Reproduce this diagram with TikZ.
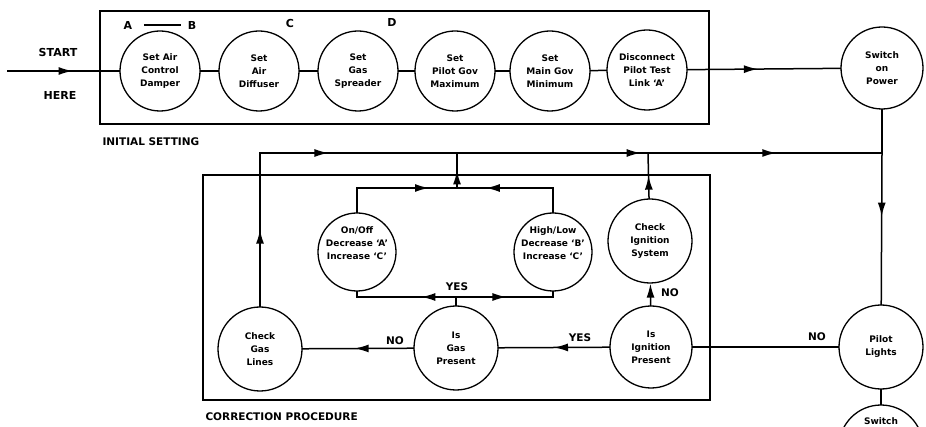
\documentclass[tikz,border=0pt]{standalone}
\usepackage{fontspec}
\setmainfont{DejaVu Sans}
\usetikzlibrary{arrows.meta,decorations.markings}
\newcommand\cfont{\fontsize{9}{13}\selectfont\bfseries}
\newcommand\lfont{\fontsize{10.5}{12}\selectfont\bfseries}
\tikzset{
  Ar/.tip={Latex[length=14pt,width=8pt]},
  bub/.style={circle,draw,line width=1.3pt,minimum size=80pt,inner sep=0pt,align=center,font=\cfont},
  btxt/.style={align=center,font=\cfont,inner sep=0pt},
  ln/.style={line width=1.5pt,line cap=rect},
  lbl/.style={font=\lfont},
  bigl/.style={font=\fontsize{11}{12}\selectfont\bfseries},
  marr/.style={postaction={decorate},decoration={markings,mark=at position #1 with {\arrow{Ar}}}}
}
\begin{document}
\begin{tikzpicture}[x=1pt,y=-1pt]
\useasboundingbox (0,0) rectangle (926,427);
% ---------- initial setting ----------
\draw[ln] (100,11) rectangle (709,124);
\node[bub] (c1) at (160,71) {Set Air\\Control\\Damper};
\node[bub] (c2) at (259,71) {Set\\Air\\Diffuser};
\node[bub] (c3) at (358,71) {Set\\Gas\\Spreader};
\node[bub] (c4) at (455,71) {Set\\Pilot Gov\\Maximum};
\node[bub] (c5) at (550,71) {Set\\Main Gov\\Minimum};
\node[bub] (c6) at (647,70) {Disconnect\\Pilot Test\\Link ‘A’};
\draw[ln] (c1) -- (c2);
\draw[ln] (c2) -- (c3);
\draw[ln] (c3) -- (c4);
\draw[ln] (c4) -- (c5);
\draw[ln] (c5) -- (c6);
\coordinate (st) at (8,71);
\draw[ln,marr=0.58] (st) -- (c1);
\node[bigl] (start) at (58,53) {START};
\node[bigl] (here) at (60,95) {HERE};
\node[bigl] (la) at (128,25) {A};
\node[bigl] (lb) at (192,25) {B};
\draw[line width=1.2pt,shorten <=8pt,shorten >=3pt] (la) -- (lb);
\node[bigl] (lc) at (290,24) {C};
\node[bigl] (ld) at (392,22) {D};
\node[lbl,anchor=west] (init) at (99,142) {INITIAL SETTING};
% ---------- right column ----------
\node[bub,minimum size=82pt] (sw) at (882,68) {Switch\\on\\Power};
\draw[ln,marr=0.46] (c6) -- (sw);
\coordinate (j1) at (260,153);
\coordinate (j2) at (457,153);
\coordinate (j3) at (648,153);
\coordinate (j4) at (882,153);
\node[bub,minimum size=84pt] (pl) at (881,347) {Pilot\\Lights};
\node[bub,minimum size=84pt] (sw2) at (881,447) {};
\node[btxt] (sw2t) at (881,421) {Switch};
\draw[ln] (sw) -- (j4);
\draw[ln,marr=0.42] (j4) -- (pl);
\draw[ln] (pl) -- (sw2);
\draw[ln,postaction={decorate},decoration={markings,
  mark=at position 0.11 with {\arrow{Ar}},
  mark=at position 0.612 with {\arrow{Ar}},
  mark=at position 0.83 with {\arrow{Ar}}}] (j1) -- (j4);
% ---------- correction procedure ----------
\draw[ln] (203,175) rectangle (710,400);
\node[lbl,anchor=west] (corr) at (202,417) {CORRECTION PROCEDURE};
\node[bub,minimum size=84pt] (cgl) at (260,349) {Check\\Gas\\Lines};
\node[bub,minimum size=84pt] (igp) at (456,348) {Is\\Gas\\Present};
\node[bub,minimum size=82pt] (iip) at (651,347) {Is\\Ignition\\Present};
\node[bub,minimum size=84pt] (cis) at (650,241) {Check\\Ignition\\System};
\node[bub,minimum size=78pt] (onoff) at (357,252) {};
\node[btxt] (onofft) at (357,243) {On/Off\\Decrease ‘A’\\Increase ‘C’};
\node[bub,minimum size=78pt] (hilo) at (553,252) {};
\node[btxt] (hilot) at (553,243) {High/Low\\Decrease ‘B’\\Increase ‘C’};
\coordinate (tl) at (357,188);
\coordinate (tr) at (553,188);
\coordinate (jt) at (457,188);
\coordinate (bl) at (357,297);
\coordinate (br) at (553,297);
\coordinate (jb) at (456,297);
\draw[ln] (iip) -- (pl);
\draw[ln,marr=0.5] (iip) -- (igp);
\draw[ln,marr=0.53] (igp) -- (cgl);
\draw[ln,-Ar] (iip) -- (cis);
\draw[ln,marr=0.5] (cgl) -- (j1);
\draw[ln,marr=0.5] (cis) -- (j3);
\draw[ln] (onoff) -- (tl);
\draw[ln,marr=0.72] (tl) -- (jt);
\draw[ln] (hilo) -- (tr);
\draw[ln,marr=0.7] (tr) -- (jt);
\draw[ln,marr=0.5] (jt) -- (j2);
\draw[ln] (igp) -- (jb);
\draw[ln,marr=0.35] (jb) -- (bl);
\draw[ln] (bl) -- (onoff);
\draw[ln,marr=0.52] (jb) -- (br);
\draw[ln] (br) -- (hilo);
\node[lbl] (yes1) at (457,287) {YES};
\node[lbl] (no1) at (395,341) {NO};
\node[lbl] (yes2) at (580,338) {YES};
\node[lbl] (no2) at (670,293) {NO};
\node[lbl] (no3) at (817,337) {NO};
\end{tikzpicture}
\end{document}
